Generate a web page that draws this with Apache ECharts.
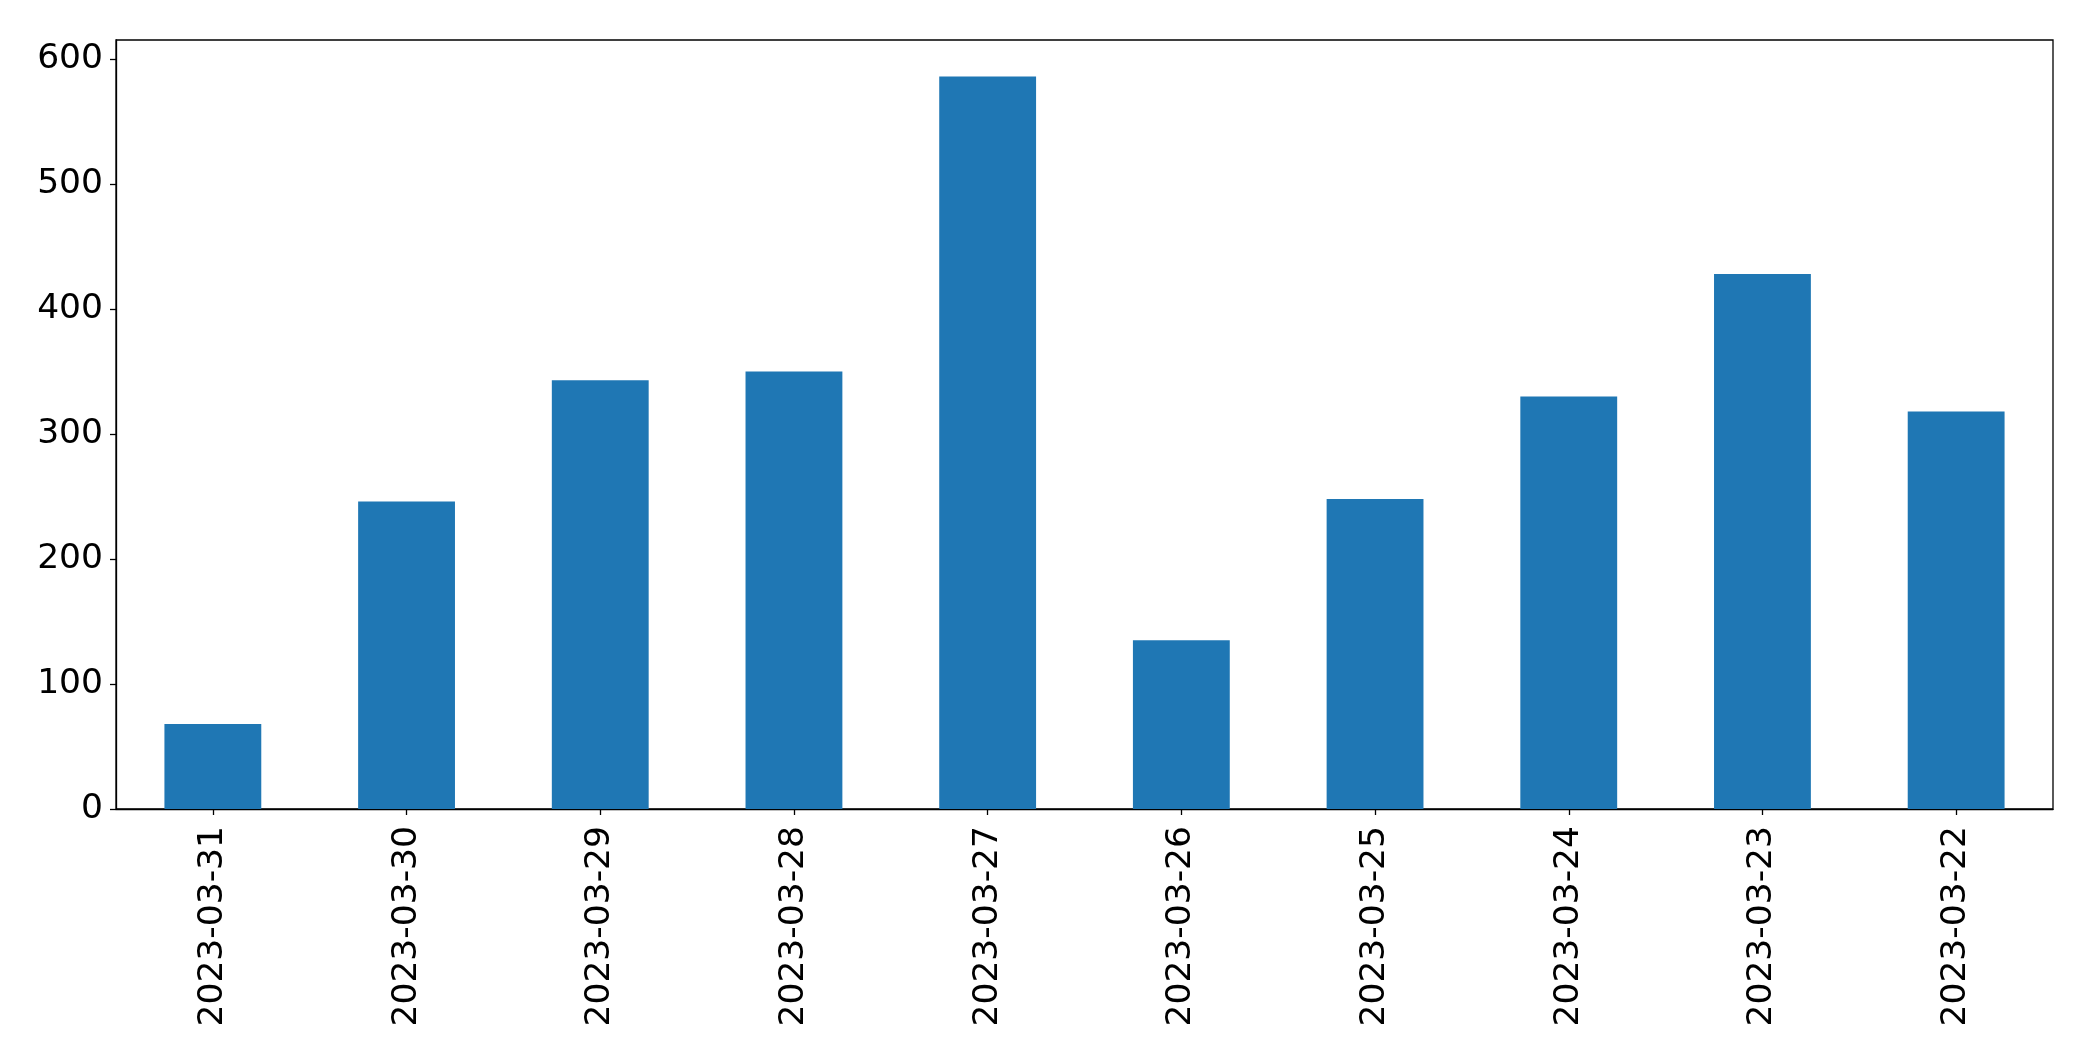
<!DOCTYPE html>
<html>
<head>
<meta charset="utf-8">
<script src="https://cdn.jsdelivr.net/npm/echarts@6/dist/echarts.min.js"></script>
<style>
  html, body { margin: 0; padding: 0; background: #fff; }
  #chart { width: 2093px; height: 1061px; }
</style>
</head>
<body>
<div id="chart"></div>
<script>
const categories = ['2023-03-31', '2023-03-30', '2023-03-29', '2023-03-28', '2023-03-27',
                    '2023-03-26', '2023-03-25', '2023-03-24', '2023-03-23', '2023-03-22'];
const values = [68, 246, 343, 350, 586, 135, 248, 330, 428, 318];
const yTicks = [0, 100, 200, 300, 400, 500, 600];
const yMax = 615.3;

const chart = echarts.init(document.getElementById('chart'), null, { renderer: 'canvas' });
const font = 'DejaVu Sans';
chart.setOption({
  animation: false,
  backgroundColor: '#ffffff',
  grid: {
    left: 116, right: 40, top: 40, bottom: 252,
    show: true, borderColor: '#000', borderWidth: 1.3, backgroundColor: 'transparent'
  },
  xAxis: {
    type: 'category',
    data: categories,
    boundaryGap: true,
    axisLine: { show: true, lineStyle: { color: '#000', width: 1.3 } },
    axisTick: { show: true, alignWithLabel: true, length: 6, lineStyle: { color: '#000', width: 1.3 } },
    axisLabel: { rotate: 90, margin: 17, color: '#000', fontFamily: font, fontSize: 34.5, interval: 0 },
    splitLine: { show: false }
  },
  yAxis: {
    type: 'value',
    min: 0, max: yMax,
    axisLine: { show: true, lineStyle: { color: '#000', width: 1.3 } },
    axisTick: { show: true, length: 6, customValues: yTicks, lineStyle: { color: '#000', width: 1.3 } },
    axisLabel: { margin: 13, color: '#000', fontFamily: font, fontSize: 34.5, customValues: yTicks },
    splitLine: { show: false }
  },
  series: [{
    type: 'bar',
    data: values,
    barWidth: '50%',
    itemStyle: { color: '#1f77b4' }
  }]
});
</script>
</body>
</html>
